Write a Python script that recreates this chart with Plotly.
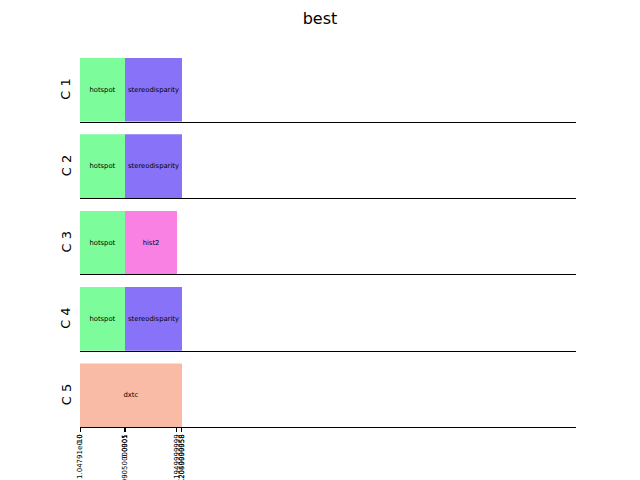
import plotly.graph_objects as go

configs = ["C 1", "C 2", "C 3", "C 4", "C 5"]
task_names = [
    ["hotspot", "stereodisparity"],
    ["hotspot", "stereodisparity"],
    ["hotspot", "hist2"],
    ["hotspot", "stereodisparity"],
    ["dxtc"],
]
task_starts = [
    [0.0, 0.0905],
    [0.0, 0.0905],
    [0.0, 0.0905],
    [0.0, 0.0905],
    [0.0],
]
task_durations = [
    [0.0905, 0.1145],
    [0.0905, 0.1145],
    [0.0905, 0.1045],
    [0.0905, 0.1145],
    [0.205],
]
task_colors = {
    "hotspot": "#7cfc9b",
    "stereodisparity": "#8873f8",
    "hist2": "#f981e4",
    "dxtc": "#f9bba6",
}
tick_values = [0.0, 0.0004, 0.0905, 0.0908, 0.1953, 0.2046, 0.205]
tick_labels = ["0.0", "1.04791e-10", "0.0905", "0.09050000001",
               "0.1949999999", "0.2049999958", "0.2050000058"]

W, H = 640, 480
top_px, bot_px = 57.6, 427.2
n = len(configs)
area = bot_px - top_px
h = area / (n + (n - 1) * 0.2)
gap = 0.2 * h

fig = go.Figure()
layout = dict(
    width=W, height=H,
    margin=dict(l=80, r=64, t=top_px, b=H - bot_px, pad=0),
    plot_bgcolor="white", paper_bgcolor="white",
    font=dict(family="DejaVu Sans", color="black"),
    showlegend=False,
    title=dict(text="best", x=0.5, xref="container", xanchor="center",
               y=1 - 18 / H, yref="container", yanchor="middle",
               font=dict(size=16)),
    barmode="overlay",
    bargap=0,
)
annotations = []
for i, cfg in enumerate(configs):
    k = i + 1
    suffix = "" if k == 1 else str(k)
    t = top_px + i * (h + gap)
    b = t + h
    y1 = 1 - (t - top_px) / area
    y0 = 1 - (b - top_px) / area
    for name, st, du in zip(task_names[i], task_starts[i], task_durations[i]):
        fig.add_trace(go.Bar(
            x=[du], base=[st], y=[0], width=1, orientation="h",
            xaxis="x" + suffix, yaxis="y" + suffix,
            marker=dict(color=task_colors[name], line=dict(width=0)),
            opacity=1,
            text=[name], textposition="inside", insidetextanchor="middle",
            textfont=dict(size=6.8, color="black"), constraintext="none",
            hoverinfo="skip",
        ))
    last = (k == n)
    layout["xaxis" + suffix] = dict(
        domain=[0, 1], range=[0, 1], anchor="y" + suffix,
        showline=True, linecolor="black", linewidth=1,
        showgrid=False, zeroline=False,
        ticks="outside" if last else "", ticklen=3.5, tickwidth=1, tickcolor="black",
        showticklabels=last,
        tickmode="array", tickvals=tick_values if last else [],
        ticktext=tick_labels if last else [],
        tickangle=-90, tickfont=dict(size=7),
        automargin=False,
    )
    layout["yaxis" + suffix] = dict(
        domain=[y0, y1], range=[-0.5, 0.5], anchor="x" + suffix,
        showline=False, showgrid=False, zeroline=False,
        showticklabels=False, ticks="", automargin=False,
    )
    annotations.append(dict(
        text=cfg, xref="paper", yref="paper",
        x=-14 / 496, y=(y0 + y1) / 2, xanchor="center", yanchor="middle",
        textangle=-90, showarrow=False, font=dict(size=13),
    ))
layout["annotations"] = annotations
fig.update_layout(**layout)
fig.write_html("out.html")
